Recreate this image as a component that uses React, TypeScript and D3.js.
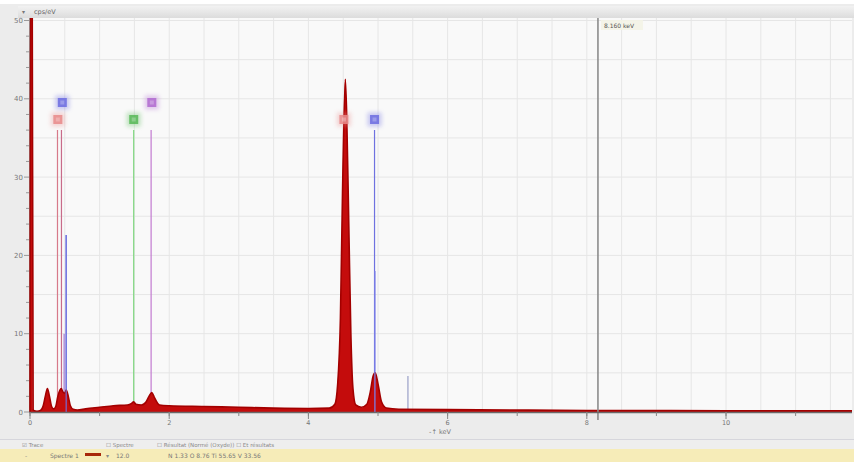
import React from "react";
import * as d3 from "d3";

// spectrum points: energy (keV) and counts (cps/eV)
const energies = [0, 0.008, 0.03, 0.045, 0.06, 0.1, 0.15, 0.19, 0.22, 0.25, 0.28, 0.31, 0.34, 0.37, 0.4, 0.43, 0.45, 0.47, 0.5, 0.52, 0.55, 0.58, 0.62, 0.68, 0.8, 1.0, 1.2, 1.4, 1.46, 1.49, 1.52, 1.6, 1.66, 1.71, 1.75, 1.79, 1.86, 2.0, 2.5, 3.0, 3.5, 4.0, 4.3, 4.38, 4.42, 4.46, 4.49, 4.53, 4.55, 4.58, 4.61, 4.64, 4.68, 4.76, 4.84, 4.89, 4.93, 4.96, 5.0, 5.05, 5.12, 5.3, 6.0, 7.0, 8.0, 9.0, 10.0, 11.0, 11.81];
const counts = [0, 60, 60, 0.3, 0.15, 0.1, 0.2, 0.8, 2.0, 3.0, 2.0, 0.7, 0.4, 0.7, 2.0, 2.8, 3.0, 2.6, 2.4, 2.8, 2.0, 0.8, 0.35, 0.25, 0.4, 0.6, 0.8, 0.9, 1.1, 1.3, 1.0, 0.9, 1.2, 2.0, 2.5, 1.8, 0.9, 0.8, 0.7, 0.6, 0.5, 0.45, 0.5, 1.0, 3.5, 12, 28, 42.5, 38, 24, 10, 3, 0.9, 0.6, 1.0, 2.6, 4.6, 5.0, 3.6, 1.3, 0.5, 0.35, 0.3, 0.25, 0.2, 0.18, 0.15, 0.15, 0.15];

// element marker lines: energy, height (cps/eV), colour
const markerEnergies = [0.395, 0.452, 0.49, 0.52, 1.49, 1.74, 4.95, 5.43];
const markerHeights = [36, 36, 10, 22.6, 36, 36, 36, 4.6];
const markerColors = ["#d77a8a", "#c86b8a", "#a27ad0", "#6f72e0", "#7ed67e", "#c27ad0", "#6f72e0", "#9aa0c8"];

// element labels (square boxes): energy, row (1 = lower, 2 = upper), colour
const boxEnergies = [0.4, 0.45, 1.49, 1.75, 4.51, 4.95];
const boxRows = [1, 2, 1, 2, 1, 1];
const boxColors = ["#e88a8a", "#6c6ce0", "#56b856", "#b06ad0", "#e88a8a", "#6c6ce0"];

const xTicks = [0, 2, 4, 6, 8, 10];
const yTicks = [0, 10, 20, 30, 40, 50];
const cursorEnergy = 8.16;
const cursorLabel = "8.160 keV";

const W = 854;
const H = 464;

export default function App() {
  const x = d3.scaleLinear().domain([0, 11.81]).range([30, 852]);
  const y = d3.scaleLinear().domain([0, 50]).range([412, 20.5]);
  const pts: [number, number][] = energies.map((e, i) => [e, counts[i]]);
  const area = d3
    .area<[number, number]>()
    .x((d) => x(d[0]))
    .y0(y(0))
    .y1((d) => y(d[1]))
    .curve(d3.curveMonotoneX);
  const line = d3
    .line<[number, number]>()
    .x((d) => x(d[0]))
    .y((d) => y(d[1]))
    .curve(d3.curveMonotoneX);

  const vGrid = d3.range(0, 11.81, 0.5);
  const hGrid = d3.range(0, 50.01, 5);
  const yMinor = d3.range(0, 50.01, 2);
  const xMinor = d3.range(0, 11.81, 1);
  const font = "'DejaVu Sans', Arial, sans-serif";

  return (
    <svg width={W} height={H} style={{ position: "absolute", left: 0, top: 0, fontFamily: font }}>
      <defs>
        <clipPath id="plotclip">
          <rect x={28} y={18} width={824} height={395} />
        </clipPath>
        <filter id="glow" x="-80%" y="-80%" width="260%" height="260%">
          <feGaussianBlur stdDeviation="2.2" />
        </filter>
        <linearGradient id="topbar" x1="0" y1="0" x2="0" y2="1">
          <stop offset="0" stopColor="#f2f2f2" />
          <stop offset="1" stopColor="#dcdcdc" />
        </linearGradient>
      </defs>
      <rect x={0} y={0} width={W} height={H} fill="#ffffff" />
      {/* outer panel */}
      <rect x={0} y={4} width={854} height={437} fill="#ececec" />
      <rect x={18} y={6} width={836} height={12} fill="url(#topbar)" />
      <text x={22} y={14} fontSize={6} fill="#777">▾</text>
      <text x={34} y={14} fontSize={6.5} fill="#666">cps/eV</text>
      {/* plot area */}
      <rect x={30} y={18} width={822} height={395} fill="#f9f9f9" />
      {vGrid.map((v) => (
        <line key={"vg" + v} x1={x(v)} x2={x(v)} y1={18} y2={412} stroke="#e6e6e6" strokeWidth={1} />
      ))}
      {hGrid.map((v) => (
        <line key={"hg" + v} x1={30} x2={852} y1={y(v)} y2={y(v)} stroke="#e6e6e6" strokeWidth={1} />
      ))}
      {/* y axis */}
      <line x1={29.5} x2={29.5} y1={18} y2={413} stroke="#9a9a9a" />
      {yMinor.map((v) => (
        <line key={"ym" + v} x1={v % 10 === 0 ? 24 : 26} x2={29.5} y1={y(v)} y2={y(v)} stroke="#999" />
      ))}
      {yTicks.map((v) => (
        <text key={"yt" + v} x={23} y={y(v) + 2.5} fontSize={7} fill="#777" textAnchor="end">
          {v}
        </text>
      ))}
      {/* marker lines */}
      <g clipPath="url(#plotclip)">
        {markerEnergies.map((e, i) => (
          <line
            key={"ml" + i}
            x1={x(e)}
            x2={x(e)}
            y1={y(markerHeights[i])}
            y2={y(0)}
            stroke={markerColors[i]}
            strokeWidth={1.2}
          />
        ))}
        {/* spectrum */}
        <path d={area(pts) || ""} fill="#c40c0c" />
        <path d={line(pts) || ""} fill="none" stroke="#a30000" strokeWidth={1.6} />
        {/* blue line over Ti/V peaks */}
        <line x1={x(4.955)} x2={x(4.955)} y1={y(18)} y2={y(0)} stroke="#7b7fe8" strokeWidth={1.6} opacity={0.8} />
        <line x1={x(0.52)} x2={x(0.52)} y1={y(22.6)} y2={y(0)} stroke="#6f72e0" strokeWidth={1.4} opacity={0.8} />
      </g>
      {/* boxes */}
      {boxEnergies.map((e, i) => {
        const cy = boxRows[i] === 1 ? 119.5 : 102.5;
        const cx = x(e) + (i === 1 ? 1 : 0);
        return (
          <g key={"bx" + i}>
            <rect x={cx - 7} y={cy - 7} width={14} height={14} fill={boxColors[i]} opacity={0.35} filter="url(#glow)" />
            <rect x={cx - 4.5} y={cy - 4.5} width={9} height={9} fill={boxColors[i]} opacity={0.85} />
            <rect x={cx - 2} y={cy - 2} width={4} height={4} fill="#ffffff" opacity={0.25} />
          </g>
        );
      })}
      {/* cursor */}
      <line x1={x(cursorEnergy)} x2={x(cursorEnergy)} y1={18} y2={420} stroke="#8c8c8c" strokeWidth={1.6} />
      <rect x={x(cursorEnergy) + 3} y={20} width={42} height={10} fill="#f3f3e6" opacity={0.9} />
      <text x={x(cursorEnergy) + 6} y={27.5} fontSize={6} fill="#555">{cursorLabel}</text>
      {/* x axis */}
      <line x1={29} x2={852} y1={412.5} y2={412.5} stroke="#6a6a6a" strokeWidth={1.3} />
      {xMinor.map((v) => (
        <line key={"xm" + v} x1={x(v)} x2={x(v)} y1={412} y2={416} stroke="#888" />
      ))}
      {xTicks.map((v) => (
        <g key={"xt" + v}>
          <line x1={x(v)} x2={x(v)} y1={412} y2={419} stroke="#888" />
          <text x={x(v)} y={425} fontSize={6.5} fill="#777" textAnchor="middle">
            {v}
          </text>
        </g>
      ))}
      <text x={440} y={434} fontSize={6.5} fill="#777" textAnchor="middle">
        -↑ keV
      </text>
      {/* bottom legend */}
      <rect x={0} y={439} width={854} height={1} fill="#d6d6dc" />
      <rect x={0} y={440} width={854} height={9} fill="#eeeeee" />
      <rect x={0} y={449} width={854} height={13} fill="#f6ecb8" />
      <text x={22} y={447} fontSize={5.5} fill="#8a8a8a">☑ Trace</text>
      <text x={106} y={447} fontSize={5.5} fill="#8a8a8a">☐ Spectre</text>
      <text x={157} y={447} fontSize={5.5} fill="#8a8a8a">☐ Résultat (Normé (Oxyde)) ☐ Et résultats</text>
      <text x={25} y={458} fontSize={6} fill="#888">-</text>
      <text x={50} y={458} fontSize={6} fill="#777">Spectre 1</text>
      <rect x={85} y={453} width={16} height={3} fill="#a8280a" />
      <text x={106} y={458} fontSize={6} fill="#888">▾</text>
      <text x={116} y={458} fontSize={6} fill="#777">12.0</text>
      <text x={168} y={458} fontSize={6} fill="#777">N 1.33   O 8.76   Ti 55.65   V 33.56</text>
    </svg>
  );
}
